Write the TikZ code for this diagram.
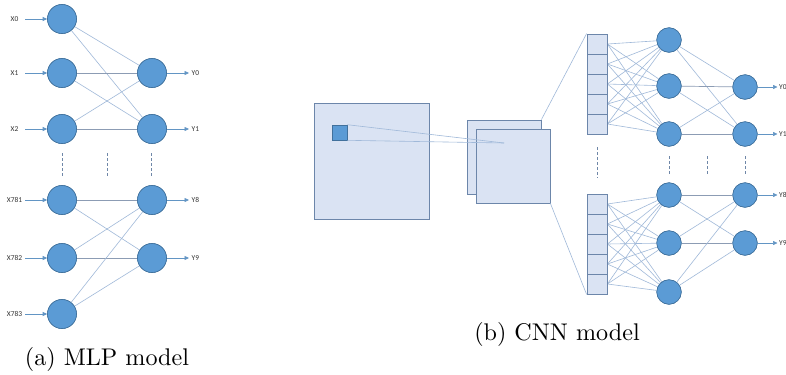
\documentclass[tikz,border=0pt]{standalone}
\usepackage{fontspec}
\newfontfamily\lblfont{Carlito}
\newfontfamily\capfont{lmroman10-regular.otf}
\usetikzlibrary{arrows.meta}
\definecolor{nfill}{HTML}{5B9BD5}
\definecolor{nborder}{HTML}{41719C}
\definecolor{bfill}{HTML}{DAE3F3}
\definecolor{bborder}{HTML}{6C86AA}
\definecolor{ecol}{HTML}{A0B9D9}
\definecolor{hcol}{HTML}{8C9CB4}
\definecolor{dcol}{HTML}{6F87A8}
\definecolor{acol}{HTML}{5B9BD5}
\tikzset{
  neuron/.style={circle, fill=nfill, draw=nborder, line width=0.6bp, minimum size=29bp, inner sep=0pt},
  cneuron/.style={neuron, minimum size=24.5bp},
  cell/.style={rectangle, fill=bfill, draw=bborder, line width=0.8bp, minimum width=20bp, minimum height=20bp, inner sep=0pt},
  fmap/.style={rectangle, fill=bfill, draw=bborder, line width=0.8bp, inner sep=0pt},
  conn/.style={draw=ecol, line width=0.6bp},
  hconn/.style={draw=hcol, line width=0.7bp},
  inarrow/.style={draw=acol!80!gray, line width=0.6bp, -{Triangle[length=4.5bp,width=4bp]}},
  vdots/.style={draw=dcol, line width=1bp, dash pattern=on 3bp off 2bp},
  lbl/.style={font=\lblfont\fontsize{7.5}{9}\selectfont, text=black!80, inner sep=0pt},
  captext/.style={font=\capfont\fontsize{24.2}{28}\selectfont, anchor=base, inner sep=0pt}
}
\begin{document}
\begin{tikzpicture}[x=1bp,y=-1bp]
\clip (0,0) rectangle (786,374);
\fill[white] (0,0) rectangle (786,374);

% ---------------- MLP ----------------
\foreach \n/\y/\t in {a0/19/X0, a1/73/X1, a2/129/X2, a3/200/X781, a4/258/X782, a5/314/X783}{
  \node[neuron] (\n) at (62,\y) {};
  \node[lbl] (l\n) at (14.5,\y) {\t};
  \coordinate (s\n) at (25,\y);
  \draw[inarrow] (s\n) -- (\n.west);
}
\foreach \n/\y/\t in {b0/73/Y0, b1/129/Y1, b2/200/Y8, b3/258/Y9}{
  \node[neuron] (\n) at (152,\y) {};
  \coordinate (e\n) at (189,\y);
  \node[lbl, anchor=west] (l\n) at (191.5,\y) {\t};
  \draw[inarrow] (\n.east) -- (e\n);
}
\draw[conn] (a0) -- (b0);
\draw[conn] (a0) -- (b1);
\draw[hconn] (a1) -- (b0);
\draw[conn] (a1) -- (b1);
\draw[conn] (a2) -- (b0);
\draw[hconn] (a2) -- (b1);
\draw[hconn] (a3) -- (b2);
\draw[conn] (a3) -- (b3);
\draw[conn] (a4) -- (b2);
\draw[hconn] (a4) -- (b3);
\draw[conn] (a5) -- (b2);
\draw[conn] (a5) -- (b3);
\foreach \n in {a0,a1,a2,a3,a4,a5,b0,b1,b2,b3}{\node[neuron] at (\n) {};}
\foreach \x in {62,107,151}{
  \coordinate (dt\x) at (\x,153);
  \coordinate (db\x) at (\x,178);
  \draw[vdots] (dt\x) -- (db\x);
}
\node[captext] (capa) at (107,365) {(a) MLP model};

% ---------------- CNN ----------------
\node[fmap, minimum width=115bp, minimum height=116bp] (img) at (371.5,161) {};
\node[rectangle, fill=nfill, draw=nborder, line width=0.6bp, minimum size=15bp, inner sep=0pt] (patch) at (339.5,132.5) {};
\node[fmap, minimum size=74bp] (fb) at (504,157) {};
\node[fmap, minimum size=74bp] (ff) at (513,166) {};
\coordinate (pt) at (504,143);
\draw[conn] (patch.north east) -- (pt);
\draw[conn] (patch.south east) -- (pt);

% vectors
\foreach \i/\y in {1/44,2/64,3/84,4/104,5/124}{\node[cell] (t\i) at (597,\y) {};}
\foreach \i/\y in {1/204,2/224,3/244,4/264,5/284}{\node[cell] (u\i) at (597,\y) {};}
\draw[conn] (fb.north east) -- (t1.north west);
\draw[conn] (ff.south east) -- (u5.south west);

% hidden and output neurons
\foreach \n/\y in {h1/40,h2/86,h3/134,h4/195,h5/243,h6/292}{\node[cneuron] (\n) at (669,\y) {};}
\foreach \n/\y/\t in {o1/87/Y0,o2/134/Y1,o3/195/Y8,o4/243/Y9}{
  \node[cneuron] (\n) at (745,\y) {};
  \coordinate (e\n) at (777.5,\y);
  \node[lbl, anchor=west] (l\n) at (779,\y) {\t};
  \draw[inarrow] (\n.east) -- (e\n);
}
\foreach \i in {1,...,5}{
  \foreach \h in {h1,h2,h3}{\draw[conn] (t\i.east) -- (\h);}
  \foreach \h in {h4,h5,h6}{\draw[conn] (u\i.east) -- (\h);}
}
\draw[conn] (h1) -- (o1);
\draw[conn] (h1) -- (o2);
\draw[hconn] (h2) -- (o1);
\draw[conn] (h2) -- (o2);
\draw[conn] (h3) -- (o1);
\draw[hconn] (h3) -- (o2);
\draw[hconn] (h4) -- (o3);
\draw[conn] (h4) -- (o4);
\draw[conn] (h5) -- (o3);
\draw[hconn] (h5) -- (o4);
\draw[conn] (h6) -- (o3);
\draw[conn] (h6) -- (o4);
\foreach \n in {h1,h2,h3,h4,h5,h6,o1,o2,o3,o4}{\node[cneuron] at (\n) {};}
\foreach \i in {1,...,5}{\node[cell, fill=none] at (t\i) {}; \node[cell, fill=none] at (u\i) {};}

\coordinate (vt) at (597,147);
\coordinate (vb) at (597,178);
\draw[vdots] (vt) -- (vb);
\foreach \x in {669,707,745}{
  \coordinate (ct\x) at (\x,156);
  \coordinate (cb\x) at (\x,176);
  \draw[vdots] (ct\x) -- (cb\x);
}
\node[captext] (capb) at (557,340) {(b) CNN model};
\end{tikzpicture}
\end{document}
